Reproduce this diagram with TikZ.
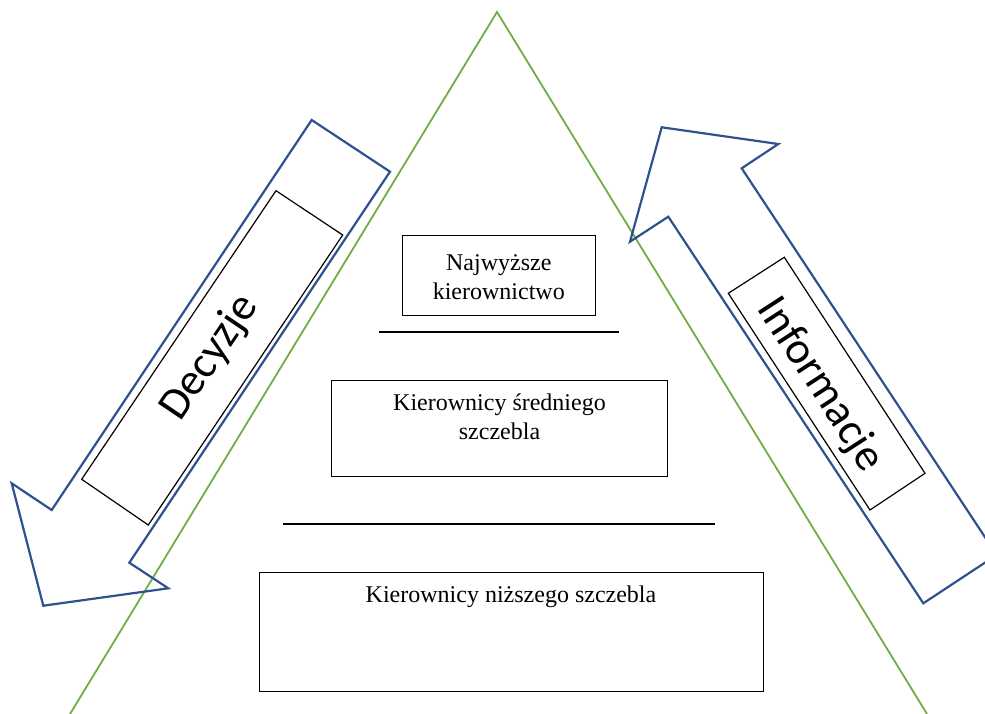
\documentclass[tikz,border=0pt]{standalone}
\usepackage{fontspec}
\setmainfont{Liberation Serif}
\newfontfamily\arrowfont{Carlito}
\definecolor{arrowblue}{RGB}{47,82,143}
\definecolor{pyrgreen}{RGB}{112,173,71}

\begin{document}
\begin{tikzpicture}[x=1pt, y=-1pt,
  level/.style={font=\fontsize{24}{29}\selectfont, align=center, inner sep=0pt},
  flow/.style={draw=arrowblue, line width=2.2pt, line join=miter},
  tag/.style={font=\arrowfont\fontsize{45}{54}\selectfont, inner sep=0pt}]
\useasboundingbox (0,0) rectangle (985,714);
\clip (0,0) rectangle (985,714);

\draw[pyrgreen, line width=1.8pt] (70,714) -- (497,12) -- (927,714);

\draw[flow] (311.7,120) -- (390,171.7) -- (129.3,562.7) -- (168.3,588.3) -- (43.3,605.7) -- (11.7,483.3) -- (51.7,510) -- cycle;
\draw[flow] (661.7,127.3) -- (778.3,144) -- (741.7,168.3) -- (996.7,554.9) -- (923.3,603.3) -- (668.3,216.7) -- (630,241.7) -- cycle;

\draw[line width=1.2pt] (276,190.7) -- (342.7,235) -- (148.3,525) -- (81.7,479.3) -- cycle;
\draw[line width=1.2pt] (784.3,257.3) -- (925,473.3) -- (870,510) -- (728.3,293.3) -- cycle;
\node[tag, rotate=56] (decyzje) at (210,358) {Decyzje};
\node[tag, rotate=-57] (informacje) at (820,385) {Informacje};

\draw[line width=1pt] (402.7,235.7) rectangle (595,315.7);
\node[level, anchor=north] (top) at (498.8,254) {Najwyższe\\kierownictwo};
\draw[line width=2pt] (379.3,332.3) -- (619,332.3);

\draw[line width=1pt] (331.7,380) rectangle (667.3,476);
\node[level, anchor=north] (middle) at (499.5,394) {Kierownicy średniego\\szczebla};
\draw[line width=2pt] (283.3,524) -- (715,524);

\draw[line width=1pt] (259,572) rectangle (763,691);
\node[level, anchor=north] (lower) at (511,586) {Kierownicy niższego szczebla};
\end{tikzpicture}
\end{document}
